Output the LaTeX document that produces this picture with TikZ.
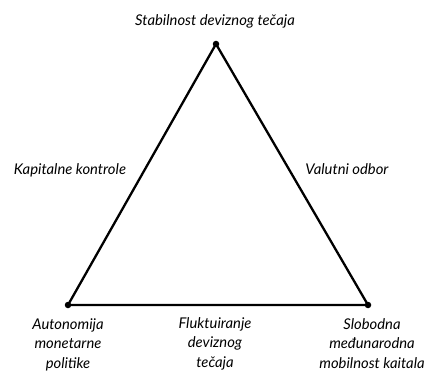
\documentclass[tikz,border=0pt]{standalone}
\usepackage{fontspec}
\setmainfont{Lato}
\begin{document}
\begin{tikzpicture}[x=1pt,y=-1pt,
  lbl/.style={font=\fontsize{14.8}{19.5}\selectfont\itshape, align=center, inner sep=0pt, anchor=base},
  edge/.style={line width=2.3pt, line join=miter},
  vdot/.style={circle, fill=black, inner sep=0pt, minimum size=6.5pt}]
\useasboundingbox (0,0) rectangle (425,371);
\node[vdot] (T) at (216,44) {};
\node[vdot] (L) at (68,305) {};
\node[vdot] (R) at (368,305) {};
\draw[edge] (T.center) -- (L.center) -- (R.center) -- cycle;
\node[lbl] (tl) at (215,26) {Stabilnost deviznog tečaja};
\node[lbl] (kl) at (70,175) {Kapitalne kontrole};
\node[lbl] (vl) at (347,175) {Valutni odbor};
\node[lbl] (al) at (68,368) {Autonomija\\monetarne\\politike};
\node[lbl] (fl) at (215,367) {Fluktuiranje\\deviznog\\tečaja};
\node[lbl] (sl) at (372,368) {Slobodna\\međunarodna\\mobilnost kaitala};
\end{tikzpicture}
\end{document}
